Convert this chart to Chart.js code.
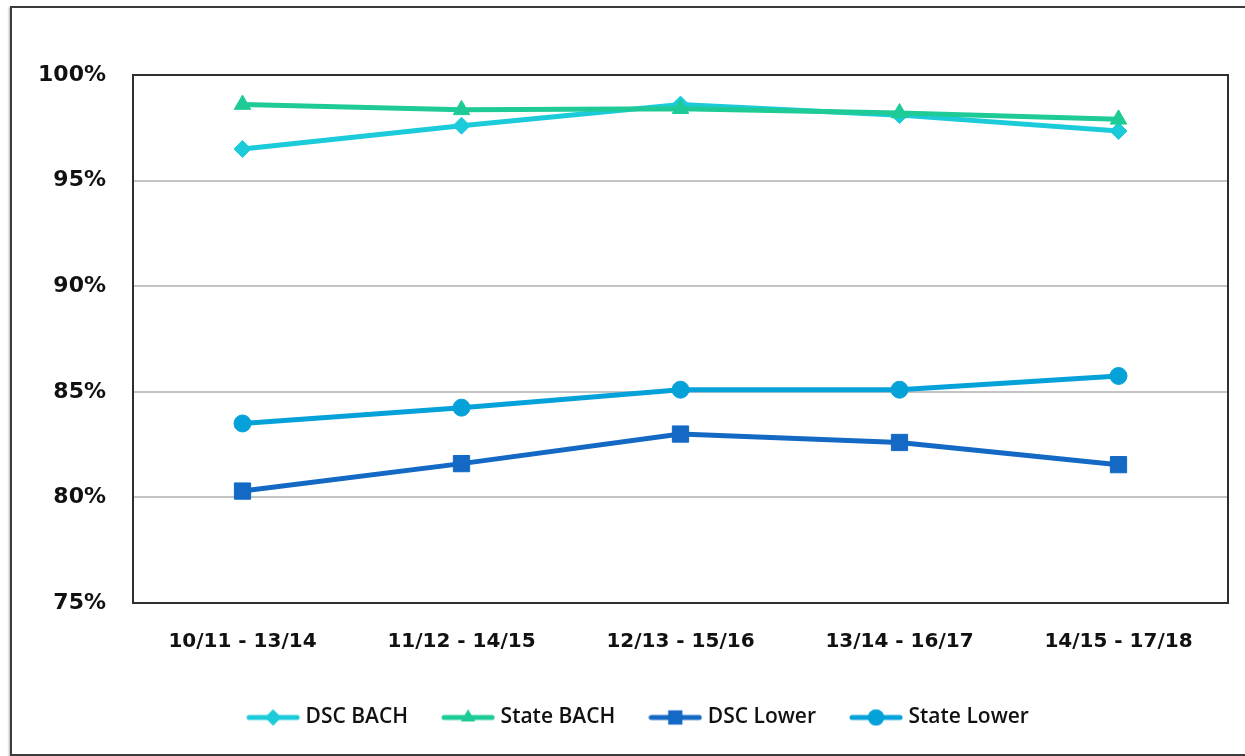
<!DOCTYPE html>
<html>
<head>
<meta charset="utf-8">
<script src="https://cdn.jsdelivr.net/npm/chart.js@4/dist/chart.umd.min.js"></script>
<style>
  html, body { margin: 0; padding: 0; background: #fff; }
  #frame {
    position: absolute; left: 10px; top: 6px; width: 1260px; height: 746px;
    border: 2px solid #3c3c3c; box-shadow: -1px 1px 2px #b0b0b0;
  }
  #chart { position: absolute; left: 0; top: 0; }
</style>
</head>
<body>
<div id="frame"></div>
<canvas id="chart" width="1245" height="756"></canvas>
<script>
// values
const periods = ['10/11 - 13/14', '11/12 - 14/15', '12/13 - 15/16', '13/14 - 16/17', '14/15 - 17/18'];
const dscBach = [96.5, 97.6, 98.6, 98.1, 97.35];
const stateBach = [98.6, 98.35, 98.4, 98.2, 97.9];
const dscLower = [80.3, 81.6, 83.0, 82.6, 81.55];
const stateLower = [83.5, 84.25, 85.1, 85.1, 85.75];
const yTicks = [75, 80, 85, 90, 95, 100];

const AXIS_FONT = '"DejaVu Sans", sans-serif';
const LEGEND_FONT = '"Open Sans", "DejaVu Sans", sans-serif';

// small canvas used as legend symbol: a line with the marker in the middle
function legendSymbol(color, style) {
    const c = document.createElement('canvas');
    c.width = 54; c.height = 18;
    const ctx = c.getContext('2d');
    ctx.strokeStyle = color;
    ctx.fillStyle = color;
    ctx.lineWidth = 5;
    ctx.lineCap = 'round';
    ctx.beginPath();
    ctx.moveTo(3, 9); ctx.lineTo(51, 9);
    ctx.stroke();
    const r = style === 'rect' ? 10 : 8;
    Chart.helpers.drawPoint(ctx, { pointStyle: style, radius: r, borderWidth: 0 }, 27, 9);
    ctx.fill();
    return c;
}

const plotBorder = {
    id: 'plotBorder',
    beforeDatasetsDraw(chart) {
        const a = chart.chartArea;
        const ctx = chart.ctx;
        ctx.save();
        ctx.strokeStyle = '#2e2e2e';
        ctx.lineWidth = 2;
        ctx.strokeRect(a.left, a.top, a.right - a.left, a.bottom - a.top);
        ctx.restore();
    }
};

function series(label, data, color, style, radius, order) {
    return {
        label: label,
        data: data,
        borderColor: color,
        backgroundColor: color,
        borderWidth: 5,
        pointStyle: style,
        pointRadius: radius,
        pointHoverRadius: radius,
        pointBorderWidth: 1,
        pointBackgroundColor: color,
        pointBorderColor: color,
        tension: 0,
        order: order,
        legendSymbol: legendSymbol(color, style)
    };
}

new Chart(document.getElementById('chart'), {
    type: 'line',
    data: {
        labels: periods,
        datasets: [
            series('DSC BACH', dscBach, '#1ccbd9', 'rectRot', 8.5, 3),
            series('State BACH', stateBach, '#1ecb96', 'triangle', 9.5, 2),
            series('DSC Lower', dscLower, '#1469c4', 'rect', 11.5, 1),
            series('State Lower', stateLower, '#05a1d9', 'circle', 8.5, 0)
        ]
    },
    options: {
        responsive: false,
        animation: false,
        layout: { padding: { left: 36, right: 1, top: 75, bottom: 18 } },
        plugins: {
            tooltip: { enabled: false },
            legend: {
                position: 'bottom',
                labels: {
                    usePointStyle: true,
                    pointStyleWidth: 44,
                    padding: 38,
                    color: '#111',
                    font: { family: LEGEND_FONT, size: 21, weight: '600' },
                    generateLabels: chart => chart.data.datasets.map((ds, i) => ({
                        text: ds.label,
                        pointStyle: ds.legendSymbol,
                        fillStyle: ds.borderColor,
                        strokeStyle: ds.borderColor,
                        fontColor: '#111',
                        lineWidth: 0,
                        hidden: false,
                        datasetIndex: i
                    }))
                }
            }
        },
        scales: {
            x: {
                offset: true,
                grid: { display: false, drawTicks: false },
                border: { display: false },
                ticks: {
                    padding: 27,
                    color: '#111',
                    maxRotation: 0,
                    font: { family: AXIS_FONT, size: 20, weight: 'bold' }
                },
                afterFit: s => { s.height = 66; }
            },
            y: {
                min: 75,
                max: 100,
                afterBuildTicks: s => { s.ticks = yTicks.map(v => ({ value: v })); },
                grid: {
                    drawTicks: false,
                    lineWidth: 2,
                    color: c => (c.tick && (c.tick.value === 75 || c.tick.value === 100)) ? 'rgba(0,0,0,0)' : '#c4c4c4'
                },
                border: { display: false },
                ticks: {
                    padding: 27,
                    color: '#111',
                    font: { family: AXIS_FONT, size: 22, weight: 'bold' },
                    callback: v => v + '%'
                },
                afterFit: s => { s.width = 97; }
            },
            // empty right-hand axis, only keeps the plot clear of the right edge
            yRight: {
                position: 'right',
                min: 75,
                max: 100,
                grid: { display: false, drawTicks: false },
                border: { display: false },
                ticks: { display: false },
                afterFit: s => { s.width = 16; }
            }
        }
    },
    plugins: [plotBorder]
});
</script>
</body>
</html>
